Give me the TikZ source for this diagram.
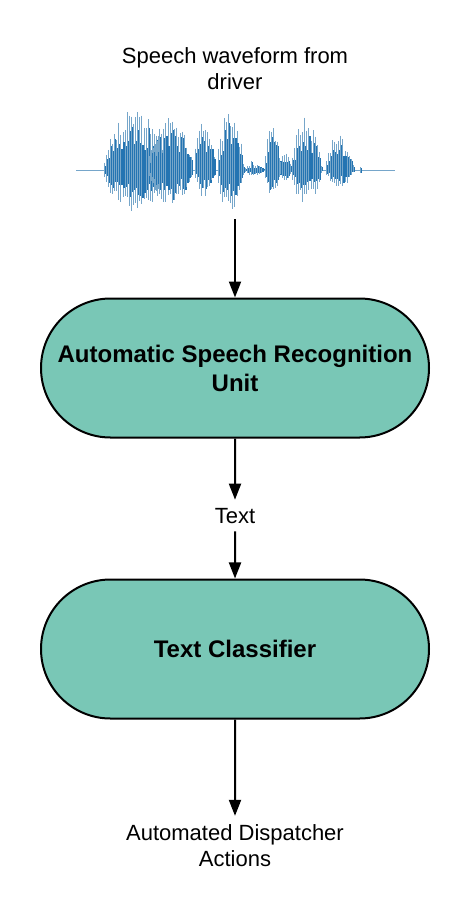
\documentclass[tikz,border=0pt]{standalone}
\usepackage{fontspec}
\setmainfont{Liberation Sans}
\usetikzlibrary{arrows.meta, shapes.misc}
\definecolor{termfill}{RGB}{121,199,182}
\definecolor{wavedark}{RGB}{36,116,178}
\definecolor{wavelite}{RGB}{118,166,202}

\begin{document}
\begin{tikzpicture}[
        x=1pt, y=-1pt,
        every node/.style={align=center, font=\fontsize{22}{26}\selectfont, inner sep=8pt},
        term/.style={rounded rectangle, draw, line width=2pt, fill=termfill,
                     minimum width=388pt, minimum height=139pt, inner sep=0pt,
                     font=\fontsize{24}{29}\selectfont\bfseries},
        arr/.style={-{Triangle[length=16pt, width=12pt]}, line width=2pt},
        wl/.style={wavelite, line width=1pt},
        wd/.style={wavedark, line width=1.3pt}
    ]
        \useasboundingbox (0,0) rectangle (470,921);
        \node[anchor=base] (wavetxt) at (235,89) {Speech waveform from\\driver};
        \draw[wl] (76,170) -- (395,170);
        \pgfmathsetseed{11}
        \foreach \cx/\hw/\au/\ad in {135/33/64/45, 170/23/58/37, 204/11/56/28,
                230/14/60/45, 254/11/6/6, 251/2/15/4, 272/9/44/28, 285/7/18/12,
                306/16/53/34, 339/15/36/18, 360/2/4/4}{
            \pgfmathtruncatemacro\cnt{2*\hw/2.1}
            \foreach \i in {0,...,\cnt}{
                \pgfmathsetmacro\tv{(2.1*\i-\hw)/\hw}
                \pgfmathsetmacro\px{\cx+\tv*\hw}
                \pgfmathsetmacro\env{(1-\tv*\tv)^0.8}
                \pgfmathsetmacro\ha{\au*\env*(0.6+0.4*rnd)}
                \pgfmathsetmacro\hb{\ad*\env*(0.6+0.4*rnd)}
                \pgfmathsetmacro\da{\ha*(0.45+0.45*rnd)}
                \pgfmathsetmacro\db{\hb*(0.45+0.45*rnd)}
                \draw[wl] (\px,170-\ha) -- (\px,170+\hb);
                \draw[wd] (\px+1.05,170-\da) -- (\px+1.05,170+\db);
            }
        }
        \coordinate (wavebot) at (235,219);
        \node[term] (asr) at (235,368) {Automatic Speech Recognition\\Unit};
        \node[anchor=base] (txt) at (235,523) {Text};
        \node[term] (cls) at (235,649) {Text Classifier};
        \node[anchor=base] (act) at (235,866) {Automated Dispatcher\\Actions};
        \draw[arr] (wavebot) -- (asr);
        \draw[arr] (asr) -- (txt);
        \draw[arr] (txt) -- (cls);
        \draw[arr] (cls) -- (act);
    \end{tikzpicture}
\end{document}
